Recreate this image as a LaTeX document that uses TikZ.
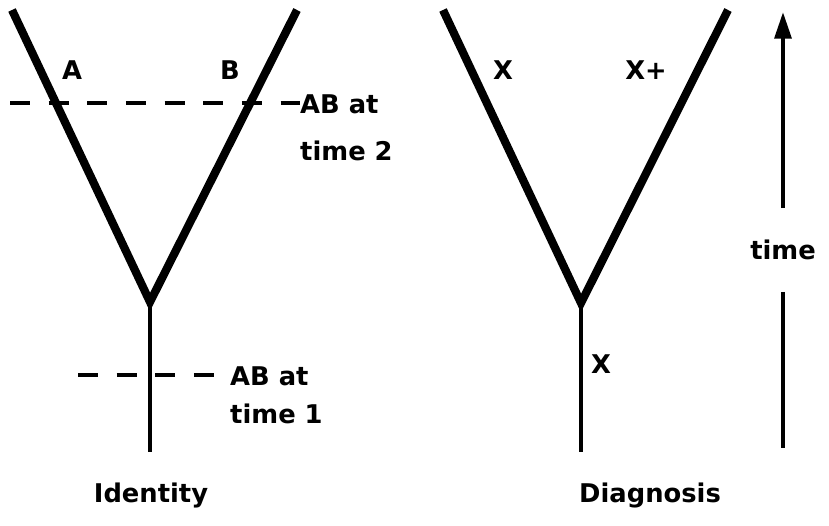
\documentclass[tikz,border=0pt]{standalone}
\usepackage{fontspec}
\setmainfont{DejaVu Sans}
\usetikzlibrary{arrows.meta}
\definecolor{TreeInk}{HTML}{000000}

\begin{document}
\begin{tikzpicture}[x=0.03cm,y=-0.03cm,
  branch/.style={TreeInk,line width=7pt},
  stem/.style={TreeInk,line width=3.6pt},
  cut/.style={TreeInk,line width=2.6pt,dash pattern=on 17pt off 16pt},
  lbl/.style={font=\fontsize{22}{28}\selectfont\bfseries,inner sep=0pt}]
\path[use as bounding box] (0,0) rectangle (829,525);
% identity tree
\coordinate (idA) at (12,10);
\coordinate (idB) at (297,10);
\coordinate (idFork) at (150,302);
\coordinate (idRoot) at (150,452);
\draw[branch] (idA) -- (idFork) -- (idB);
\draw[stem] (idFork) -- (idRoot);
\node[lbl] (labA) at (72,70) {A};
\node[lbl] (labB) at (230,70) {B};
\coordinate (tt2L) at (10,103);
\node[lbl,anchor=base west] (tt2top) at (300,113) {AB at};
\node[lbl,anchor=base west] (tt2bot) at (300,160) {time 2};
\draw[cut] (tt2L) -- (tt2top.west |- tt2L);
\coordinate (tt1L) at (78,375);
\coordinate (tt1R) at (218,375);
\node[lbl,anchor=base west] (tt1top) at (230,385) {AB at};
\node[lbl,anchor=base west] (tt1bot) at (230,423) {time 1};
\draw[cut] (tt1L) -- (tt1R);
\node[lbl] (identity) at (151,495) {Identity};
% diagnosis tree
\coordinate (dgA) at (443,10);
\coordinate (dgB) at (728,10);
\coordinate (dgFork) at (581,303);
\coordinate (dgRoot) at (581,452);
\draw[branch] (dgA) -- (dgFork) -- (dgB);
\draw[stem] (dgFork) -- (dgRoot);
\node[lbl] (labX) at (503,70) {X};
\node[lbl] (labXplus) at (646,70) {X+};
\node[lbl] (labXroot) at (601,364) {X};
\node[lbl] (diagnosis) at (650,495) {Diagnosis};
% time axis
\coordinate (timeTop) at (783,12);
\coordinate (timeBot) at (783,448);
\node[lbl,inner ysep=27pt] (timelbl) at (783,250) {time};
\draw[stem,-{Triangle[length=0.8cm,width=0.5cm]}] (timelbl.north) -- (timeTop);
\draw[stem] (timelbl.south) -- (timeBot);
\end{tikzpicture}
\end{document}
